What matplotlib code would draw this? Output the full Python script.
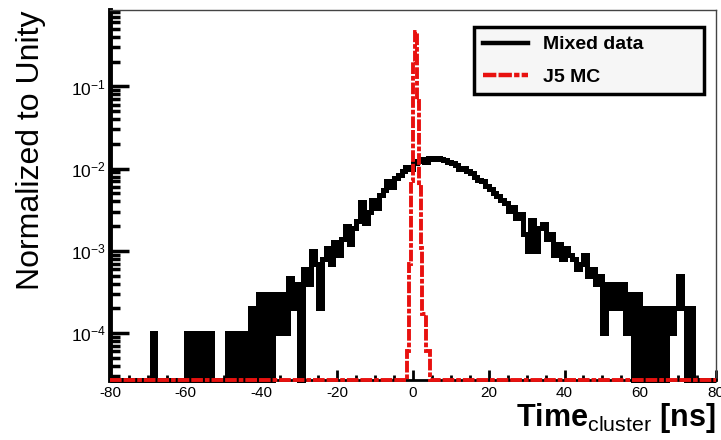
import numpy as np
import matplotlib
matplotlib.use('Agg')
import matplotlib.pyplot as plt
from matplotlib.ticker import LogLocator, MultipleLocator, NullFormatter
from matplotlib.lines import Line2D

plt.rcParams['font.family'] = ['Liberation Sans', 'DejaVu Sans']
plt.rcParams['mathtext.fontset'] = 'custom'
plt.rcParams['mathtext.rm'] = 'Liberation Sans'
plt.rcParams['mathtext.bf'] = 'Liberation Sans:bold'
plt.rcParams['mathtext.it'] = 'Liberation Sans:italic'
plt.rcParams['axes.unicode_minus'] = False

# mixed data, 1 ns bins from -80 to 80 (normalized to unity)
data_lo = -80
data_hi = 80
data_vals = [
    0, 0, 0, 0, 0, 0, 0, 0, 0, 0, 0,                       # -80 .. -70
    1e-4,                                                  # -69
    0, 0, 0, 0, 0, 0, 0, 0,                                # -68 .. -61
    1e-4, 0, 1e-4, 0, 1e-4, 0, 1e-4,                       # -60 .. -54
    0, 0, 0, 0,                                            # -53 .. -50
    1e-4, 0, 1e-4, 0, 1e-4, 0, 2e-4, 0, 3e-4, 0,           # -49 .. -40
    3e-4, 0, 3e-4, 1e-4, 3e-4, 1e-4, 4.7e-4, 2e-4, 4e-4, 0,  # -39 .. -30
    6e-4, 4e-4, 1.0e-3, 7e-4, 2e-4, 8e-4, 1.1e-3, 7e-4, 1.3e-3, 9e-4,  # -29 .. -20
    1.4e-3, 2.0e-3, 1.2e-3, 1.9e-3, 2.3e-3, 3.9e-3, 2.2e-3, 3.0e-3, 4.2e-3, 3.3e-3,  # -19 .. -10
    4.8e-3, 5.5e-3, 7.0e-3, 6.0e-3, 7.8e-3, 8.5e-3, 9.5e-3, 1.05e-2, 1.0e-2,  # -9 .. -1
    .0118, .0125, .0130, .0122, .0135, .0132, .0136, .0130, .0128, .0122,  # 0 .. 9
    .0118, .0112, .0100, .0102, .0094, .0088, .0080, .0072, .0070, .0061,  # 10 .. 19
    .0056, .0050, .0047, .0042, .0038, .0031, .0034, .0025, .0028, .0016,  # 20 .. 29
    .0010, .0024, .0010, .0019, .0021, .0014, .0016, .0009, .0012, .0008,  # 30 .. 39
    .0011, .0009, .0008, .0006, .0007, .0009, .0005, .0006, .0004, .0005,  # 40 .. 49
    .0001, .0004, .0002, .0004, .0002, .0004, .0001, .0003, 0, .0003,      # 50 .. 59
    0, .0002, 0, .0002, 0, .0002, 0, .0002, .0001, .0002,                  # 60 .. 69
    .0005, .0002, 0, .0002, 0, 0, 0, 0, 0, 0,                              # 70 .. 79
]

# J5 MC, 0.5 ns bins around the peak, zero elsewhere
mc_edges = [-80, -1.5, -1.0, -0.5, 0.0, 0.5, 1.0, 1.5, 2.0, 2.5, 3.0, 3.5, 4.0, 4.5, 80]
mc_vals = [0, 6e-5, 7e-4, 7e-3, 0.20, 0.46, 0.067, 6e-3, 1.1e-3, 1.7e-4, 1.7e-4, 6e-5, 6e-5, 0]

y_bottom = 2.7e-5
y_top = 0.85
red = '#e8110f'
red_dash = (0, (3, 0.5, 3, 0.5, 1.2, 0.5))

data_edges = np.arange(data_lo, data_hi + 1)
data_plot = np.maximum(np.array(data_vals, dtype=float), y_bottom)
mc_plot = np.maximum(np.array(mc_vals, dtype=float), y_bottom)

fig = plt.figure(figsize=(7.21, 4.40), dpi=100)
ax = fig.add_axes([110/721, 1-380/440, 606/721, 370/440])

ax.stairs(data_plot, data_edges, color='black', lw=3.6, baseline=None,
          clip_on=False, zorder=3)
ax.stairs(mc_plot, mc_edges, color=red, lw=2.8, baseline=None,
          linestyle=red_dash, clip_on=False, zorder=4)

ax.set_yscale('log')
ax.set_xlim(data_lo, data_hi)
ax.set_ylim(y_bottom, y_top)

ax.xaxis.set_major_locator(MultipleLocator(20))
ax.xaxis.set_minor_locator(MultipleLocator(5))
ax.yaxis.set_major_locator(LogLocator(base=10, numticks=10))
ax.yaxis.set_minor_locator(LogLocator(base=10, subs=np.arange(2, 10), numticks=20))
ax.yaxis.set_minor_formatter(NullFormatter())

ax.tick_params(axis='x', which='major', direction='in', length=7, width=2, labelsize=11, pad=4)
ax.tick_params(axis='x', which='minor', direction='in', length=3.5, width=2)
ax.tick_params(axis='y', which='major', direction='in', length=14, width=2.5, labelsize=12.5, pad=3)
ax.tick_params(axis='y', which='minor', direction='in', length=7, width=2.5)

ax.spines['left'].set_linewidth(3.5)
ax.spines['bottom'].set_linewidth(2)
for s in ['top', 'right']:
    ax.spines[s].set_linewidth(1)
    ax.spines[s].set_color('#444444')

ax.set_ylabel('Normalized to Unity', fontsize=23, loc='top', labelpad=18)
ax.set_xlabel(r'$\mathbf{Time}_{\mathrm{cluster}}$ [ns]', fontsize=22, fontweight='bold',
              loc='right', labelpad=1)

handles = [Line2D([], [], color='black', lw=3.2),
           Line2D([], [], color=red, lw=3.2, linestyle=red_dash)]
leg = ax.legend(handles, ['Mixed data', 'J5 MC'], loc='upper left',
                bbox_to_anchor=(0.601, 0.954, 0.379, 0.0), mode='expand',
                prop={'weight': 'bold', 'size': 14}, fancybox=False, framealpha=1,
                facecolor='#f6f6f6', edgecolor='black', handlelength=2.3,
                handletextpad=0.8, labelspacing=0.75, borderpad=0.45, borderaxespad=0)
leg.get_frame().set_linewidth(2.5)
leg.set_zorder(5)

fig.savefig('out.png', dpi=100)
